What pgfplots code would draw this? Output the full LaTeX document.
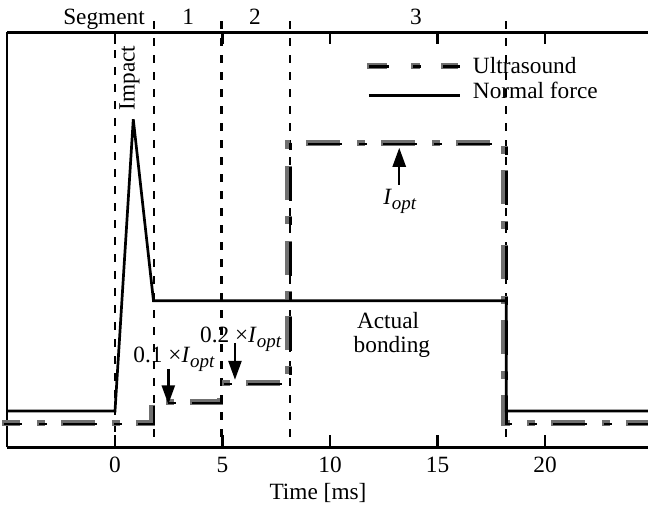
\documentclass[border=0pt]{standalone}
\usepackage{fontspec}
\setmainfont{Liberation Serif}
\usepackage{pgfplots}
\pgfplotsset{compat=1.18}
\usetikzlibrary{arrows.meta}

\definecolor{usgray}{RGB}{112,112,112}
\newcommand\fs{\fontsize{23.3}{24}\selectfont}
\newcommand\Iopt{\textit{I}\raisebox{-5pt}{\fontsize{19}{20}\selectfont\textit{opt}}}

\pgfplotsset{
  usdash/.style={dash pattern=on 34pt off 17pt on 8pt off 16pt, dash phase=15.7pt},
  uslegdash/.style={dash pattern=on 20pt off 24pt on 8.4pt off 21.6pt on 17pt off 20pt},
  usshadow/.style={usgray, line width=6.5pt, line join=miter, xshift=-1.8pt, yshift=0.8pt},
  uscore/.style={black, line width=2.8pt, line join=miter},
  seg/.style={black, line width=2.3pt, dash pattern=on 8pt off 9pt},
}
\tikzset{arr/.style={line width=2.5pt, -{Triangle[length=19pt,width=13pt]}}}

\begin{document}
\begin{tikzpicture}[font=\fs]
\begin{axis}[
  at={(7pt,62.7pt)}, anchor=south west,
  width=641pt, height=415pt, scale only axis,
  xmin=-5.023, xmax=24.79, ymin=0, ymax=415,
  axis y line*=left,
  axis line style={line width=2.6pt},
  ytick=\empty,
  xtick={0,5,10,15,20},
  tick align=inside, major tick length=12pt,
  tick style={line width=2.4pt, black},
  /pgf/number format/assume math mode=true,
  xticklabel style={font=\fs, inner sep=0pt, anchor=north, yshift=-9.4pt},
  xlabel={Time [ms]},
  xlabel style={font=\fs, at={(axis description cs:0.4852,0)}, anchor=base, yshift=-52.7pt, inner sep=0pt},
  clip=false,
]
% segment boundaries
\addplot[seg] coordinates {(0,414) (0,0)};
\addplot[seg] coordinates {(1.81,426) (1.81,0)};
\addplot[seg] coordinates {(4.96,426) (4.96,0)};
\addplot[seg] coordinates {(8.15,426) (8.15,0)};
\addplot[seg] coordinates {(18.2,426) (18.2,0)};

% ultrasound
\addplot[usshadow, usdash] coordinates {
  (-5.163,23.3) (1.81,23.3) (1.81,44.3) (4.96,44.3) (4.96,63.3) (8.15,63.3)
  (8.15,303.3) (18.2,303.3) (18.2,23.3) (26,23.3)};
\addplot[uscore, usdash] coordinates {
  (-5.163,23.3) (1.81,23.3) (1.81,44.3) (4.96,44.3) (4.96,63.3) (8.15,63.3)
  (8.15,303.3) (18.2,303.3) (18.2,23.3) (26,23.3)};

% normal force
\addplot[black, line width=2.7pt, line join=miter] coordinates {
  (-5.023,36.3) (0,36.3) (0.85,328) (1.79,146.6) (18.2,146.6) (18.2,36.3) (26,36.3)};

% legend
\addplot[usshadow, uslegdash] coordinates {(11.81,380.6) (16.05,380.6)};
\addplot[uscore, uslegdash] coordinates {(11.81,380.6) (16.05,380.6)};
\addplot[black, line width=2.7pt] coordinates {(11.81,351.6) (16.05,351.6)};
\node[anchor=base west, inner sep=0pt] at (axis cs:16.64,373.3) {Ultrasound};
\node[anchor=base west, inner sep=0pt] at (axis cs:16.64,348.3) {Normal force};

% segment labels
\node[anchor=base, inner sep=0pt] at (axis cs:-0.51,422.3) {Segment};
\node[anchor=base, inner sep=0pt] at (axis cs:3.40,422.3) {1};
\node[anchor=base, inner sep=0pt] at (axis cs:6.51,422.3) {2};
\node[anchor=base, inner sep=0pt] at (axis cs:14.0,422.3) {3};

% annotations
\node[rotate=90, inner sep=0pt] at (axis cs:0.67,369.3) {Impact};
\draw[arr] (axis cs:2.48,78.3) -- (axis cs:2.48,43);
\draw[arr] (axis cs:5.58,104.3) -- (axis cs:5.58,67.5);
\draw[arr] (axis cs:13.22,262.3) -- (axis cs:13.22,299.5);
\node[anchor=base west, inner sep=0pt] at (axis cs:0.85,84.3) {0.1 ×\Iopt};
\node[anchor=base west, inner sep=0pt] at (axis cs:3.95,104.3) {0.2 ×\Iopt};
\node[anchor=base west, inner sep=0pt] at (axis cs:12.47,242.3) {\Iopt};
\node[anchor=base, inner sep=0pt] at (axis cs:12.7,118.3) {Actual};
\node[anchor=base, inner sep=0pt] at (axis cs:12.88,94.3) {bonding};
\end{axis}
\pgfresetboundingbox
\path[use as bounding box] (0pt,0pt) rectangle (648pt,510pt);
\end{tikzpicture}
\end{document}
